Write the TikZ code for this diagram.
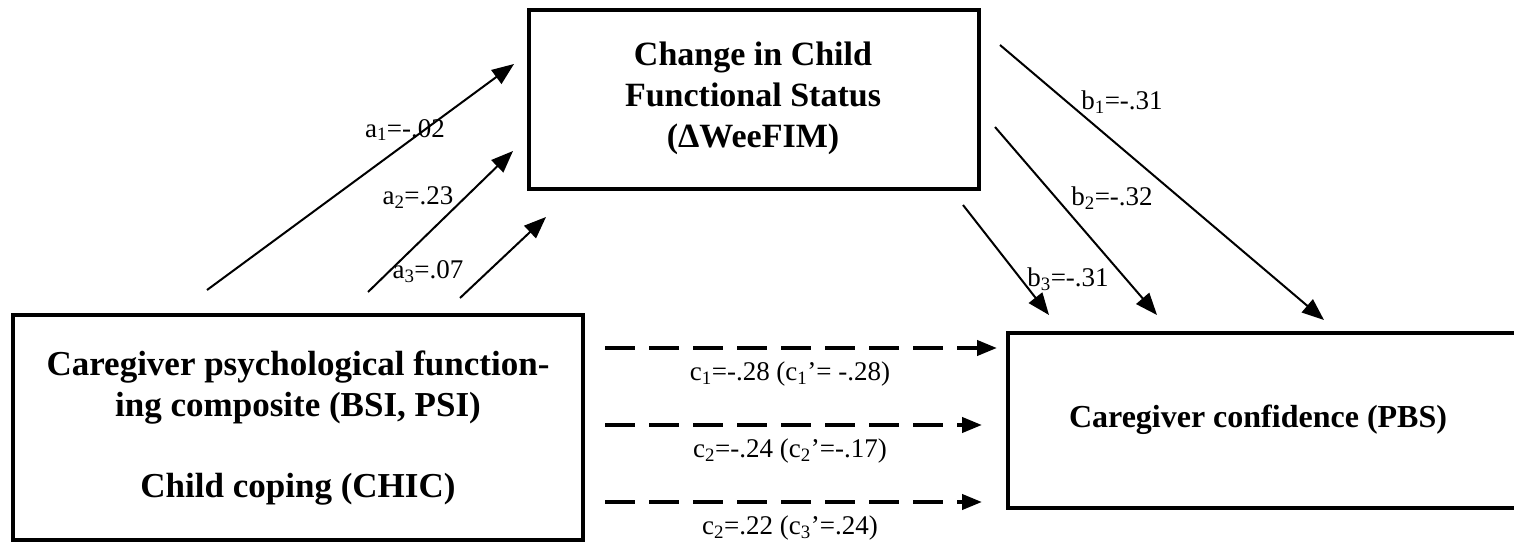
\documentclass[tikz,border=0pt]{standalone}
\usepackage{fontspec}
\setmainfont{Liberation Serif}
\usetikzlibrary{arrows.meta}
\begin{document}
\begin{tikzpicture}[x=1pt,y=-1pt,
  box/.style={draw,line width=4pt,inner sep=0pt},
  boxtext/.style={font=\fontsize{34}{41}\selectfont\bfseries,align=center},
  lab/.style={font=\fontsize{27}{30}\selectfont},
  path/.style={line width=2pt,-{Triangle[length=22pt,width=17pt]}},
  direct/.style={line width=4pt,dash pattern=on 30pt off 14pt,-{Triangle[length=20pt,width=15pt]}}]
\useasboundingbox (0,0) rectangle (1514,551);
% boxes
\draw[box] (529,10) rectangle (979,189);
\node[boxtext] (med) at (753,98) {Change in Child\\Functional Status\\(ΔWeeFIM)};
\draw[box] (13,315) rectangle (583,540);
\node[boxtext,font=\fontsize{35}{41}\selectfont\bfseries] (pred) at (298,388) {Caregiver psychological function-\\ing composite (BSI, PSI)};
\node[boxtext,font=\fontsize{35}{41}\selectfont\bfseries] (pred2) at (298,489) {Child coping (CHIC)};
\draw[box] (1008,333) rectangle (1520,508);
\node[boxtext,font=\fontsize{32}{41}\selectfont\bfseries] (out) at (1258,420) {Caregiver confidence (PBS)};
% coordinates
\coordinate (a1s) at (207,290); \coordinate (a1e) at (514,64);
\coordinate (a2s) at (368,292); \coordinate (a2e) at (513,151);
\coordinate (a3s) at (460,298); \coordinate (a3e) at (546,217);
\coordinate (b1s) at (1000,45); \coordinate (b1e) at (1324,320);
\coordinate (b2s) at (995,127); \coordinate (b2e) at (1157,315);
\coordinate (b3s) at (963,205); \coordinate (b3e) at (1049,315);
\coordinate (c1s) at (605,348); \coordinate (c1e) at (997,348);
\coordinate (c2s) at (605,425); \coordinate (c2e) at (982,425);
\coordinate (c3s) at (605,502); \coordinate (c3e) at (982,502);
% arrows
\draw[path] (a1s) -- (a1e);
\draw[path] (a2s) -- (a2e);
\draw[path] (a3s) -- (a3e);
\draw[path] (b1s) -- (b1e);
\draw[path] (b2s) -- (b2e);
\draw[path] (b3s) -- (b3e);
\draw[direct] (c1s) -- (c1e);
\draw[direct] (c2s) -- (c2e);
\draw[direct] (c3s) -- (c3e);
% labels
\node[lab] (la1) at (405,130) {a\textsubscript{1}=-.02};
\node[lab] (la2) at (418,198) {a\textsubscript{2}=.23};
\node[lab] (la3) at (428,272) {a\textsubscript{3}=.07};
\node[lab] (lb1) at (1122,102) {b\textsubscript{1}=-.31};
\node[lab] (lb2) at (1112,198) {b\textsubscript{2}=-.32};
\node[lab] (lb3) at (1068,279) {b\textsubscript{3}=-.31};
\node[lab] (lc1) at (790,374) {c\textsubscript{1}=-.28 (c\textsubscript{1}’= -.28)};
\node[lab] (lc2) at (790,451) {c\textsubscript{2}=-.24 (c\textsubscript{2}’=-.17)};
\node[lab] (lc3) at (790,528) {c\textsubscript{2}=.22 (c\textsubscript{3}’=.24)};
\end{tikzpicture}
\end{document}
